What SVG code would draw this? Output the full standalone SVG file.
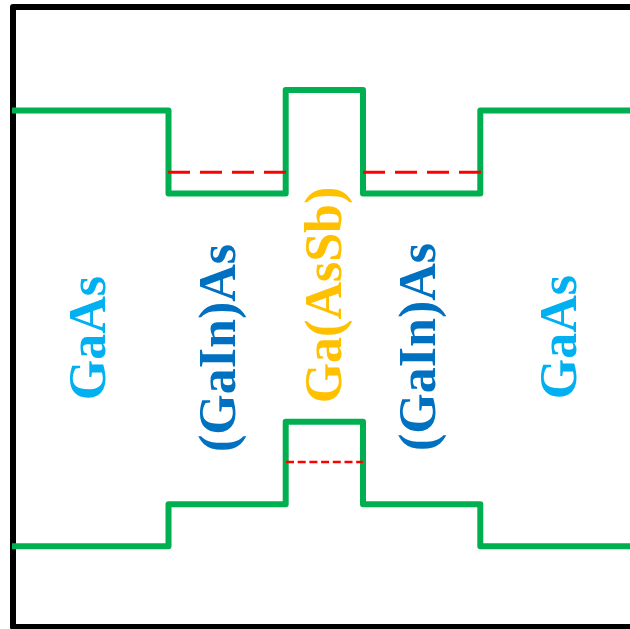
<svg xmlns="http://www.w3.org/2000/svg" width="630" height="629" viewBox="0 0 630 629">
  <defs>
    <style>
      .frame { fill: none; stroke: #000000; stroke-width: 6; stroke-linejoin: round; }
      .band { fill: none; stroke: #00B050; stroke-width: 6; stroke-linejoin: round; }
      .level { fill: none; stroke: #FF0000; stroke-width: 3; stroke-dasharray: 22 10; }
      .level-fine { fill: none; stroke: #FF0000; stroke-width: 2.5; stroke-dasharray: 8 3.7; }
      .label { font-family: "Liberation Serif", "Times New Roman", serif; font-weight: bold; font-size: 52px; text-anchor: middle; }
      .gaas { fill: #00B0F0; }
      .gainas { fill: #0070C0; }
      .gaassb { fill: #FFC000; }
    </style>
  </defs>
  <rect width="630" height="629" fill="#FFFFFF"/>

  <!-- outer frame, open to the right -->
  <g id="frame">
    <rect class="frame" x="13" y="7" width="640" height="620"/>
  </g>

  <!-- band edges and confined levels -->
  <g id="connectors">
    <path id="upper-band" class="band" d="M12,110.5 H168.5 V193.5 H285.7 V90 H363 V193.5 H480.3 V110.5 H632"/>
    <path id="lower-band" class="band" d="M12,546.3 H168.5 V504.3 H285.7 V421.7 H363 V504.3 H480.3 V546.3 H632"/>
    <path id="level-left" class="level" d="M168,172.3 H286"/>
    <path id="level-right" class="level" d="M363,172.3 H481"/>
    <path id="level-centre" class="level-fine" d="M286,462 H363"/>
  </g>

  <!-- layer labels -->
  <g id="layer-gaas-left">
    <text class="label gaas" transform="translate(105,338) rotate(-90)">GaAs</text>
  </g>
  <g id="layer-gainas-left">
    <text class="label gainas" transform="translate(235,348) rotate(-90)">(GaIn)As</text>
  </g>
  <g id="layer-gaassb">
    <text class="label gaassb" transform="translate(341,295) rotate(-90)">Ga(AsSb)</text>
  </g>
  <g id="layer-gainas-right">
    <text class="label gainas" transform="translate(435,347) rotate(-90)">(GaIn)As</text>
  </g>
  <g id="layer-gaas-right">
    <text class="label gaas" transform="translate(576,337) rotate(-90)">GaAs</text>
  </g>
</svg>
